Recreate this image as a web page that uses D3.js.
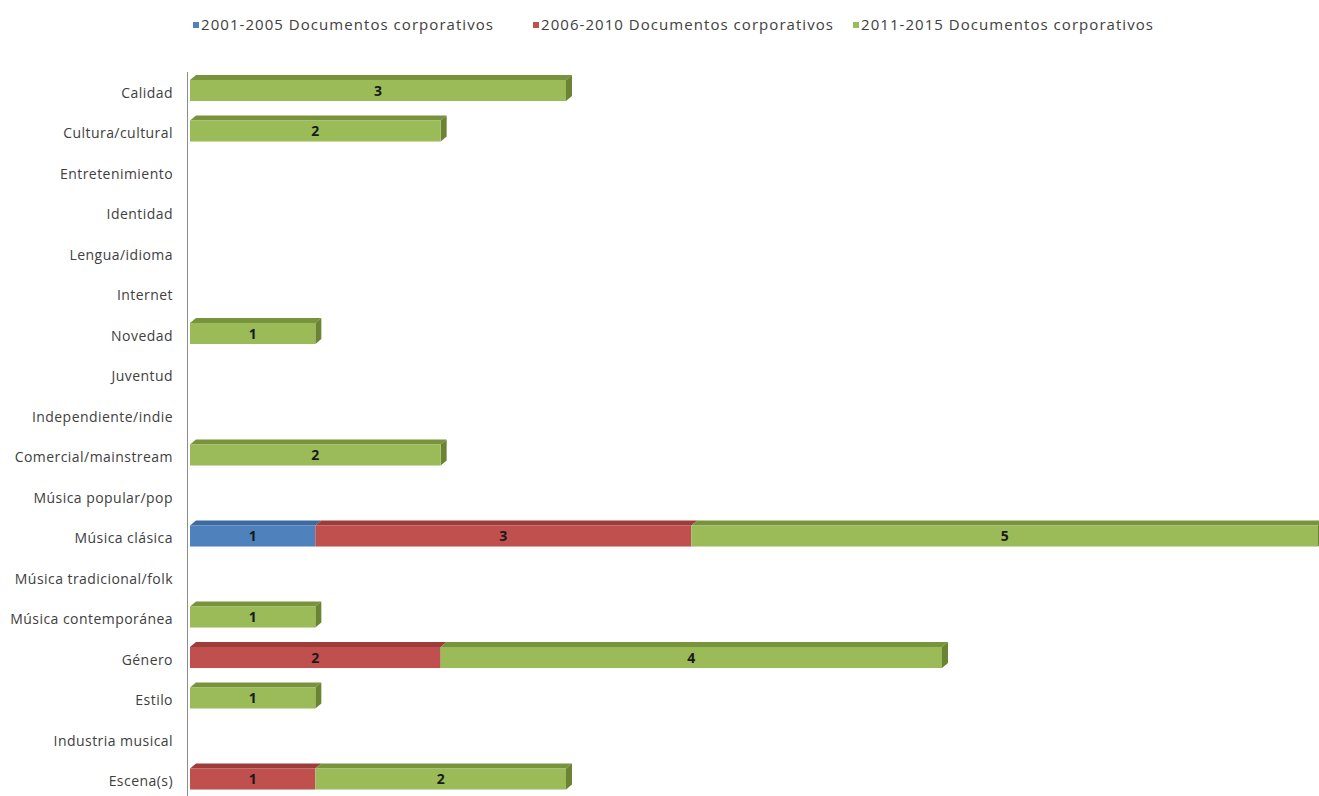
<!DOCTYPE html>
<html>
<head>
<meta charset="utf-8">
<script src="https://cdn.jsdelivr.net/npm/d3@7"></script>
<style>
  html, body { margin: 0; padding: 0; background: #fff; }
  svg { display: block; }
</style>
</head>
<body>
<svg id="chart" width="1319" height="796"></svg>
<script>
// Categories, top to bottom
const categories = [
  "Calidad", "Cultura/cultural", "Entretenimiento", "Identidad", "Lengua/idioma",
  "Internet", "Novedad", "Juventud", "Independiente/indie", "Comercial/mainstream",
  "Música popular/pop", "Música clásica", "Música tradicional/folk",
  "Música contemporánea", "Género", "Estilo", "Industria musical", "Escena(s)"
];

// Series names
const seriesNames = [
  "2001-2005 Documentos corporativos",
  "2006-2010 Documentos corporativos",
  "2011-2015 Documentos corporativos"
];

// Counts per category for each period
const period2001_2005 = [0, 0, 0, 0, 0, 0, 0, 0, 0, 0, 0, 1, 0, 0, 0, 0, 0, 0];
const period2006_2010 = [0, 0, 0, 0, 0, 0, 0, 0, 0, 0, 0, 3, 0, 0, 2, 0, 0, 1];
const period2011_2015 = [3, 2, 0, 0, 0, 0, 1, 0, 0, 2, 0, 5, 0, 1, 4, 1, 0, 2];

const seriesValues = [period2001_2005, period2006_2010, period2011_2015];

// Face colours: front, top, side
const colors = [
  { front: "#4f81bd", top: "#3c6aa3", side: "#355e90" },
  { front: "#c0504d", top: "#9e3c3a", side: "#8e3633" },
  { front: "#9bbb59", top: "#77933c", side: "#6a8434" }
];

const svg = d3.select("#chart");
const W = 1319, H = 796;
const FONT = "'Open Sans', 'Noto Sans', sans-serif";

const x = d3.scaleLinear().domain([0, 9]).range([190, 1318]);
const y = d3.scaleBand()
  .domain(categories)
  .range([70.25, 799.25])
  .paddingInner(0.48)
  .paddingOuter(0.24);

const depthX = 6, depthY = 5;

// Stack the data
const rows = categories.map((c, i) => {
  const r = { category: c };
  seriesNames.forEach((s, k) => { r[s] = seriesValues[k][i]; });
  return r;
});
const stacked = d3.stack().keys(seriesNames)(rows);

// Legend
const legendX = [193, 533, 853];
const legend = svg.append("g");
seriesNames.forEach((s, k) => {
  const g = legend.append("g").attr("transform", `translate(${legendX[k]},25)`);
  g.append("rect").attr("x", 0).attr("y", -3).attr("width", 6).attr("height", 6)
    .attr("fill", colors[k].front);
  g.append("text").attr("x", 8).attr("y", 0).attr("dy", "0.35em")
    .attr("font-family", FONT).attr("font-size", 15)
    .attr("letter-spacing", 1.05)
    .attr("fill", "#404040").text(s);
});

// Category axis
const axis = svg.append("g").attr("transform", "translate(187,0)")
  .call(d3.axisLeft(y).tickSize(0).tickPadding(14));
axis.select(".domain").attr("stroke", "#8c8c8c").attr("stroke-width", 1)
  .attr("d", `M0.5,72V${H}`);
axis.selectAll("text")
  .attr("font-family", FONT)
  .attr("font-size", 14)
  .attr("letter-spacing", 0.45)
  .attr("dy", "0.5em")
  .attr("fill", "#404040");

// Bars
const bars = svg.append("g");
stacked.forEach((layer, k) => {
  layer.forEach((d, i) => {
    const v = d[1] - d[0];
    if (v <= 0) return;
    const cat = categories[i];
    const x0 = x(d[0]), x1 = x(d[1]);
    const y0 = y(cat), bh = y.bandwidth();
    const g = bars.append("g");
    // top face
    g.append("path")
      .attr("d", `M${x0},${y0} L${x0 + depthX},${y0 - depthY} L${x1 + depthX},${y0 - depthY} L${x1},${y0} Z`)
      .attr("fill", colors[k].top);
    // right face only on the outermost segment
    const isLast = seriesValues.slice(k + 1).every(arr => arr[i] === 0);
    if (isLast) {
      g.append("path")
        .attr("d", `M${x1},${y0} L${x1 + depthX},${y0 - depthY} L${x1 + depthX},${y0 + bh - depthY} L${x1},${y0 + bh} Z`)
        .attr("fill", colors[k].side);
    }
    // front face
    g.append("rect")
      .attr("x", x0).attr("y", y0)
      .attr("width", x1 - x0).attr("height", bh)
      .attr("fill", colors[k].front);
    // value label
    g.append("text")
      .attr("x", (x0 + x1) / 2).attr("y", y0 + bh / 2).attr("dy", "0.38em")
      .attr("text-anchor", "middle")
      .attr("font-family", FONT)
      .attr("font-weight", "bold").attr("font-size", 14)
      .attr("fill", "#1a1a1a")
      .text(v);
  });
});
</script>
</body>
</html>
